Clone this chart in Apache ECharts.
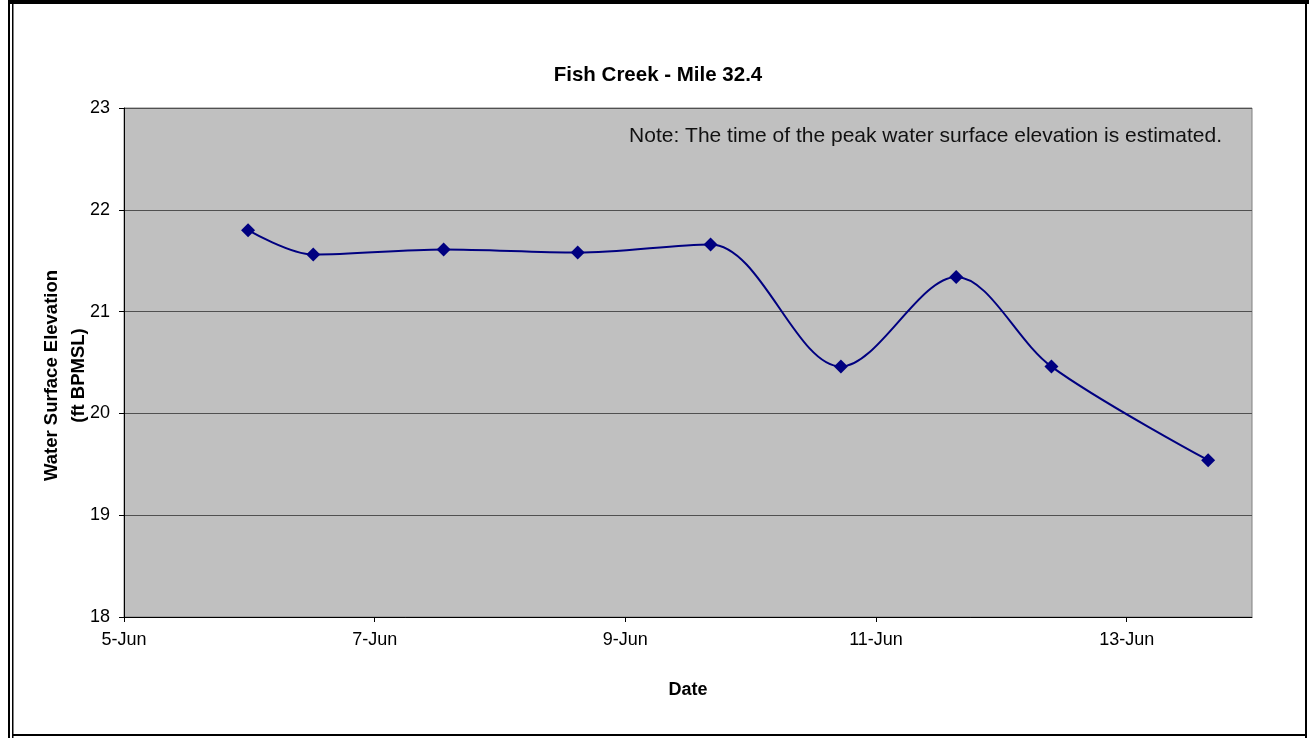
<!DOCTYPE html>
<html>
<head>
  <meta charset="utf-8">
  <title>Fish Creek - Mile 32.4</title>
  <script src="https://cdn.jsdelivr.net/npm/echarts@6/dist/echarts.min.js"></script>
  <style>
    html, body { margin: 0; padding: 0; background: #fff; }
    #chart { width: 1309px; height: 738px; }
  </style>
</head>
<body>
<div id="chart"></div>
<script>
  // day of June (fractional) and water surface elevation (ft BPMSL)
  var days = [5.99, 6.51, 7.55, 8.62, 9.68, 10.72, 11.64, 12.40, 13.65];
  var elevations = [21.80, 21.56, 21.61, 21.58, 21.66, 20.46, 21.34, 20.46, 19.54];
  var xTicks = [5, 7, 9, 11, 13];
  var yTicks = [18, 19, 20, 21, 22, 23];

  var font = '"Liberation Sans", Arial, sans-serif';
  var points = days.map(function (d, i) { return [d, elevations[i]]; });

  var chart = echarts.init(document.getElementById('chart'));
  chart.setOption({
    animation: false,
    backgroundColor: '#fff',
    textStyle: { fontFamily: font },
    title: {
      text: 'Fish Creek - Mile 32.4',
      left: 653, top: 60, textAlign: 'center',
      textStyle: { fontFamily: font, fontSize: 20.5, fontWeight: 'bold', color: '#000' }
    },
    grid: {
      left: 124, right: 57, top: 108, bottom: 121,
      show: true, backgroundColor: '#c0c0c0', borderColor: '#808080', borderWidth: 1
    },
    xAxis: {
      type: 'value',
      min: xTicks[0], max: 14, interval: 2,
      name: 'Date', nameLocation: 'middle', nameGap: 64,
      nameTextStyle: { fontFamily: font, fontSize: 18, fontWeight: 'bold', color: '#000' },
      axisLine: { lineStyle: { color: '#000', width: 1 } },
      axisTick: { length: 5, lineStyle: { color: '#000' } },
      axisLabel: {
        fontFamily: font, fontSize: 18, color: '#000', margin: 14, showMaxLabel: false,
        formatter: function (v) { return xTicks.indexOf(v) >= 0 ? v + '-Jun' : ''; }
      },
      splitLine: { show: false }
    },
    yAxis: {
      type: 'value',
      min: yTicks[0], max: yTicks[yTicks.length - 1], interval: 1,
      name: 'Water Surface Elevation\n(ft BPMSL)', nameLocation: 'middle', nameGap: 32,
      nameMoveOverlap: false,
      nameTextStyle: {
        fontFamily: font, fontSize: 18.5, fontWeight: 'bold', color: '#000', lineHeight: 27,
        padding: [0, 26, 0, 0]
      },
      axisLine: { show: true, lineStyle: { color: '#000', width: 1 } },
      axisTick: { show: true, length: 5, lineStyle: { color: '#000' } },
      axisLabel: { fontFamily: font, fontSize: 18, color: '#000', margin: 14 },
      splitLine: { show: true, lineStyle: { color: '#505050', width: 1 } }
    },
    series: [{
      type: 'line',
      data: points,
      smooth: 0.33,
      symbol: 'diamond',
      symbolSize: 14,
      itemStyle: { color: '#000080' },
      lineStyle: { color: '#000080', width: 2 }
    }],
    graphic: [
      {
        type: 'text', right: 1309 - 1222, top: 126, z: 10,
        style: {
          text: 'Note: The time of the peak water surface elevation is estimated.',
          fontFamily: font, fontSize: 21, fill: '#111'
        }
      },
      // page frame
      { type: 'rect', shape: { x: 8, y: 0, width: 1301, height: 4 }, style: { fill: '#000' } },
      { type: 'rect', shape: { x: 8, y: 0, width: 2, height: 738 }, style: { fill: '#000' } },
      { type: 'rect', shape: { x: 12, y: 0, width: 1.5, height: 738 }, style: { fill: '#000' } },
      { type: 'rect', shape: { x: 1305, y: 0, width: 2, height: 738 }, style: { fill: '#000' } },
      { type: 'rect', shape: { x: 12, y: 734, width: 1295, height: 2 }, style: { fill: '#000' } }
    ]
  });
</script>
</body>
</html>
